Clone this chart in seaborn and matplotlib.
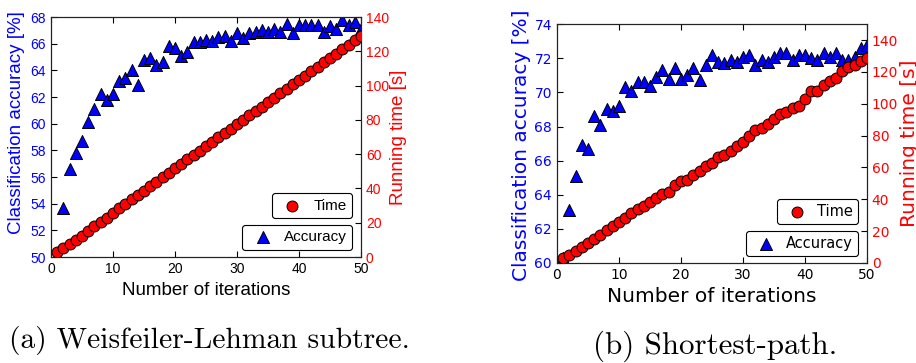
import numpy as np
import seaborn as sns
import matplotlib.pyplot as plt

# iterations on the x axis
iterations = np.arange(1, 51)

# (a) Weisfeiler-Lehman subtree
wl_accuracy = [50.1, 53.7, 56.6, 57.8, 58.7, 60.1, 61.1, 62.2, 61.8, 62.2,
               63.2, 63.4, 64.0, 62.9, 64.8, 64.9, 64.4, 64.6, 65.8, 65.7,
               65.1, 65.4, 66.1, 66.1, 66.3, 66.2, 66.5, 66.6, 66.2, 66.8,
               66.4, 66.8, 66.9, 67.0, 66.9, 67.1, 66.9, 67.5, 66.8, 67.4,
               67.4, 67.4, 67.4, 66.9, 67.3, 67.1, 67.8, 67.4, 67.6, 67.1]
wl_time = [3.0, 5.1, 7.6, 10.0, 12.5, 15.2, 17.8, 20.4, 23.0, 25.8,
           28.4, 31.0, 33.6, 36.2, 38.8, 41.4, 43.9, 46.5, 49.1, 51.8,
           54.3, 56.9, 59.5, 62.0, 64.6, 67.2, 69.8, 72.3, 74.9, 77.4,
           80.0, 82.6, 85.2, 87.7, 90.4, 92.9, 95.5, 98.1, 100.7, 103.3,
           105.8, 108.4, 111.0, 113.6, 116.2, 118.7, 121.3, 123.9, 126.5, 129.2]

# (b) Shortest-path
sp_accuracy = [60.3, 63.1, 65.1, 66.9, 66.7, 68.6, 68.1, 69.0, 68.9, 69.2,
               70.3, 70.1, 70.6, 70.6, 70.4, 70.9, 71.3, 70.8, 71.4, 70.8,
               71.0, 71.4, 70.7, 71.6, 72.2, 71.8, 71.7, 71.9, 71.8, 72.1,
               72.2, 71.6, 71.9, 71.8, 72.1, 72.3, 72.3, 71.9, 72.2, 72.2,
               72.0, 71.9, 72.3, 72.1, 72.3, 71.9, 71.9, 72.1, 72.6, 72.8]
sp_time = [3.1, 5.2, 7.7, 10.0, 12.4, 14.9, 17.6, 20.7, 23.2, 25.9,
           28.4, 31.1, 33.6, 35.6, 38.3, 40.8, 43.5, 44.6, 48.7, 51.4,
           52.2, 55.5, 58.0, 60.7, 62.6, 66.3, 67.7, 70.3, 73.2, 75.9,
           79.6, 83.3, 85.0, 87.5, 90.6, 93.8, 94.8, 97.5, 98.3, 103.1,
           107.9, 107.9, 111.5, 114.2, 116.3, 120.4, 122.9, 124.6, 127.1, 128.8]

panels = [
    dict(acc=wl_accuracy, time=wl_time, acc_lim=(50, 68), acc_ticks=np.arange(50, 69, 2),
         time_lim=(0, 140), rect=[0.0557, 0.292, 0.3384, 0.661], font='Liberation Sans',
         tick_fs=10, label_fs=13.5, leg_fs=11, ylab=(-0.11, 0.56), y2lab=(1.12, 0.5), xlab=-0.138),
    dict(acc=sp_accuracy, time=sp_time, acc_lim=(60, 74), acc_ticks=np.arange(60, 75, 2),
         time_lim=(0, 150), rect=[0.608, 0.2755, 0.3384, 0.658], font='DejaVu Sans',
         tick_fs=10, label_fs=14.5, leg_fs=10.5, ylab=(-0.113, 0.494), y2lab=(1.139, 0.502), xlab=-0.142),
]

fig = plt.figure(figsize=(9.16, 3.63), dpi=100)

for p in panels:
    ax = fig.add_axes(p['rect'])
    ax2 = ax.twinx()

    sns.scatterplot(x=iterations, y=p['acc'], ax=ax, marker='^', s=75, color='#0000ff',
                    edgecolor='black', linewidth=0.7, label='Accuracy', zorder=3)
    sns.scatterplot(x=iterations, y=p['time'], ax=ax2, marker='o', s=62, color='#ff0000',
                    edgecolor='black', linewidth=0.7, label='Time', zorder=3)

    ax.set_xlim(0, 50)
    ax.set_xticks(np.arange(0, 51, 10))
    ax.set_ylim(*p['acc_lim'])
    ax.set_yticks(p['acc_ticks'])
    ax2.set_ylim(*p['time_lim'])
    ax2.set_yticks(np.arange(0, 141, 20))

    f = p['font']
    ax.tick_params(axis='both', direction='in', length=4, labelsize=p['tick_fs'], top=True)
    ax.tick_params(axis='y', labelcolor='#0000ff')
    ax2.tick_params(axis='y', direction='in', length=4, labelsize=p['tick_fs'], labelcolor='#ff0000')
    for lab in ax.get_xticklabels() + ax.get_yticklabels() + ax2.get_yticklabels():
        lab.set_fontfamily(f)

    ax.set_xlabel('Number of iterations', fontsize=p['label_fs'], family=f, va='center')
    ax.set_ylabel('Classification accuracy [%]', fontsize=p['label_fs'], family=f,
                  color='#0000ff', va='center')
    ax2.set_ylabel('Running time [s]', fontsize=p['label_fs'], family=f, color='#ff0000', va='center')
    ax.xaxis.set_label_coords(0.5, p['xlab'])
    ax.yaxis.set_label_coords(*p['ylab'])
    ax2.yaxis.set_label_coords(*p['y2lab'])

    for a in (ax, ax2):
        for s in a.spines.values():
            s.set_linewidth(0.8)
            s.set_color('#222222')

    leg_kw = dict(loc='lower right', frameon=True, fancybox=True, edgecolor='black',
                  framealpha=1, borderaxespad=0, handletextpad=0.4, borderpad=0.35,
                  prop={'family': f, 'size': p['leg_fs']})
    lg = ax2.legend(bbox_to_anchor=(0.972, 0.162), **leg_kw)
    lg.get_frame().set_linewidth(0.8)
    lg = ax.legend(bbox_to_anchor=(0.972, 0.03), **leg_kw)
    lg.get_frame().set_linewidth(0.8)

# sub-figure captions
fig.text(0.229, 0.063, '(a) Weisfeiler-Lehman subtree.', family='cmr10', fontsize=21.3,
         ha='center', va='center')
fig.text(0.781, 0.047, '(b) Shortest-path.', family='cmr10', fontsize=22.3,
         ha='center', va='center')

fig.savefig('out.png', dpi=100)
